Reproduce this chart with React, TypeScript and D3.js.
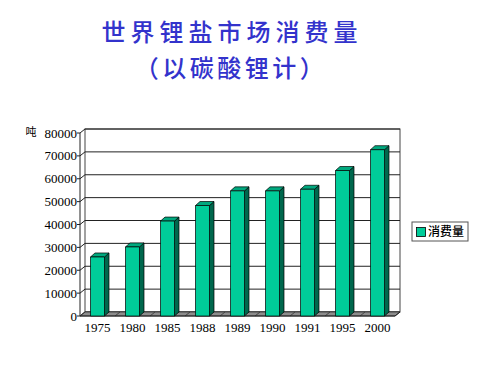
import React from "react";
import * as d3 from "d3";

const categories = ["1975", "1980", "1985", "1988", "1989", "1990", "1991", "1995", "2000"];
const values = [25800, 30200, 41500, 48300, 54700, 54700, 55400, 63600, 72700];
const yTicks = [0, 10000, 20000, 30000, 40000, 50000, 60000, 70000, 80000];
const seriesName = "消费量";
const unitLabel = "吨";
const title1 = "世界锂盐市场消费量";
const title2 = "（以碳酸锂计）";

export default function App() {
  const W = 500, H = 383;
  const x0 = 80, x1 = 395, yBase = 316, yTop = 133;
  const dx = 5, dy = -4;
  const x = d3.scaleBand<string>().domain(categories).range([x0, x1]).padding(0);
  const y = d3.scaleLinear().domain([0, 80000]).range([yBase, yTop]);
  const bw = 14, bd = 4.5, bdy = -4;
  const front = "#00CC99", side = "#00674D", top = "#00A87E";

  return (
    <svg width={W} height={H} style={{ position: "absolute", left: 0, top: 0, background: "#fff" }}
      fontFamily="'Liberation Serif', 'DejaVu Serif', serif">
      <text x={232} y={41} textAnchor="middle" fill="#3333CC" fontSize={24} fontWeight={500}
        letterSpacing={5} fontFamily="'Noto Sans CJK SC'">{title1}</text>
      <text x={231} y={77} textAnchor="middle" fill="#3333CC" fontSize={24} fontWeight={500}
        letterSpacing={3.5} fontFamily="'Noto Sans CJK SC'">{title2}</text>

      {/* back wall */}
      <rect x={x0 + dx} y={yTop + dy} width={x1 - x0} height={yBase - yTop} fill="#fff" stroke="#444" strokeWidth={1} />
      {/* gridlines */}
      {yTicks.map((t) => (
        <g key={t}>
          <line x1={x0} y1={y(t)} x2={x0 + dx} y2={y(t) + dy} stroke="#222" strokeWidth={1} />
          <line x1={x0 + dx} y1={y(t) + dy} x2={x1 + dx} y2={y(t) + dy} stroke="#222" strokeWidth={1} />
          <line x1={x0 - 3} y1={y(t)} x2={x0} y2={y(t)} stroke="#222" />
          <text x={77} y={y(t) + 4.5} textAnchor="end" fontSize={13} fill="#000">{t}</text>
        </g>
      ))}
      {/* floor */}
      <polygon points={`${x0},${yBase} ${x1},${yBase} ${x1 + dx},${yBase + dy} ${x0 + dx},${yBase + dy}`}
        fill="#8c8c8c" stroke="#333" strokeWidth={0.8} />
      {categories.map((c) => (
        <line key={"f" + c} x1={x(c)!} y1={yBase} x2={x(c)! + dx} y2={yBase + dy} stroke="#333" strokeWidth={0.8} />
      ))}
      {/* left axis */}
      <line x1={x0} y1={yBase} x2={x0} y2={yTop} stroke="#222" strokeWidth={1} />
      <line x1={x0} y1={yBase} x2={x1} y2={yBase} stroke="#222" strokeWidth={1} />
      <line x1={x1} y1={yBase} x2={x1 + dx} y2={yBase + dy} stroke="#222" strokeWidth={1} />

      {/* bars */}
      {categories.map((c, i) => {
        const bx = x(c)! + (x.bandwidth() - bw) / 2;
        const by = y(values[i]);
        return (
          <g key={c} stroke="#000" strokeWidth={0.7} strokeLinejoin="round">
            <polygon points={`${bx + bw},${by} ${bx + bw + bd},${by + bdy} ${bx + bw + bd},${yBase + bdy} ${bx + bw},${yBase}`} fill={side} />
            <polygon points={`${bx},${by} ${bx + bd},${by + bdy} ${bx + bw + bd},${by + bdy} ${bx + bw},${by}`} fill={top} />
            <rect x={bx} y={by} width={bw} height={yBase - by} fill={front} />
          </g>
        );
      })}
      {categories.map((c) => (
        <text key={"l" + c} x={x(c)! + x.bandwidth() / 2} y={332} textAnchor="middle" fontSize={13} fill="#000">{c}</text>
      ))}
      <text x={31} y={136} textAnchor="middle" fontSize={11} fontFamily="'Noto Sans CJK SC'" fill="#000">{unitLabel}</text>

      {/* legend */}
      <rect x={412} y={222} width={56} height={19} fill="#fff" stroke="#555" strokeWidth={1} />
      <rect x={416.5} y={227.5} width={9} height={9} fill={front} stroke="#000" strokeWidth={0.8} />
      <text x={428} y={236} fontSize={12} fontWeight={500} fontFamily="'Noto Sans CJK SC'" fill="#000">{seriesName}</text>
    </svg>
  );
}
